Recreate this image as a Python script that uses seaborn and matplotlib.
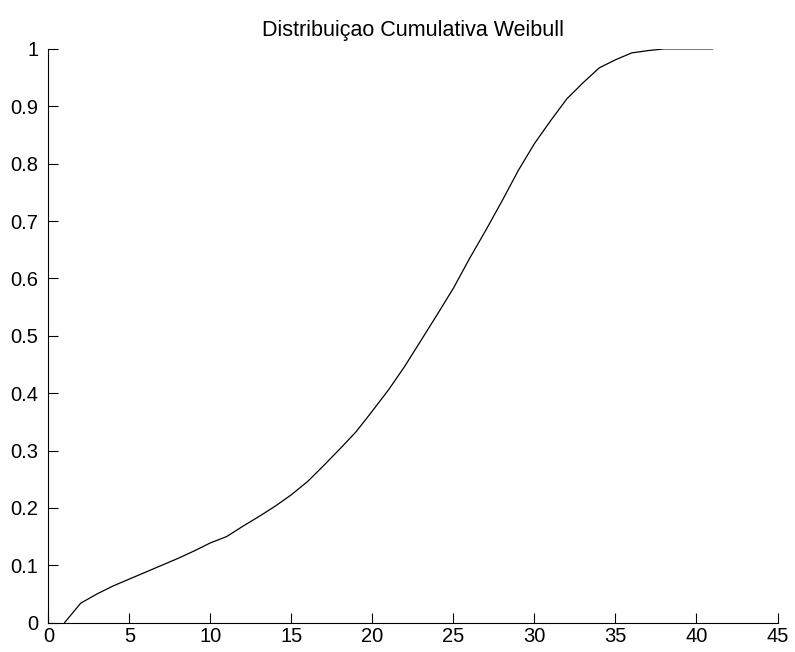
import matplotlib
matplotlib.use("Agg")
import matplotlib.pyplot as plt
from matplotlib.ticker import FuncFormatter
import seaborn as sns
import pandas as pd

# Cumulative Weibull distribution values
x_values = list(range(1, 42))
cdf_values = [
    0.000, 0.034, 0.050, 0.064, 0.076, 0.088, 0.100, 0.112, 0.125, 0.139,
    0.150, 0.168, 0.185, 0.203, 0.223, 0.246, 0.274, 0.303, 0.333, 0.369,
    0.406, 0.447, 0.492, 0.537, 0.583, 0.635, 0.684, 0.735, 0.788, 0.835,
    0.875, 0.913, 0.941, 0.967, 0.981, 0.993, 0.997, 1.000, 1.000, 1.000,
    1.000,
]
x_ticks = list(range(0, 50, 5))
y_ticks = [i / 10 for i in range(11)]
title_text = "Distribuiçao Cumulativa Weibull"

sns.set_style("ticks")
plt.rcParams["font.family"] = ["Liberation Sans", "DejaVu Sans"]
plt.rcParams["xtick.direction"] = "in"
plt.rcParams["ytick.direction"] = "in"

df = pd.DataFrame({"x": x_values, "F": cdf_values})

fig = plt.figure(figsize=(7.95, 6.52), dpi=100)
ax = fig.add_axes([0.0608, 0.045, 0.9172, 0.880])

sns.lineplot(data=df, x="x", y="F", ax=ax, color="black", linewidth=0.9)

ax.set_xlim(0, 45)
ax.set_ylim(0, 1)
ax.set_xticks(x_ticks)
ax.set_yticks(y_ticks)
ax.yaxis.set_major_formatter(FuncFormatter(lambda v, p: f"{v:g}"))
ax.set_xlabel("")
ax.set_ylabel("")
ax.tick_params(axis="both", labelsize=14.5, length=7, width=0.8,
               color="black", labelcolor="black")
ax.tick_params(axis="x", pad=3)
ax.tick_params(axis="y", pad=7)
sns.despine(ax=ax)
for side in ("left", "bottom"):
    ax.spines[side].set_color("black")
    ax.spines[side].set_linewidth(0.8)

ax.set_title(title_text, fontsize=15.5, pad=9, color="black")

fig.savefig("out.png", dpi=100)
